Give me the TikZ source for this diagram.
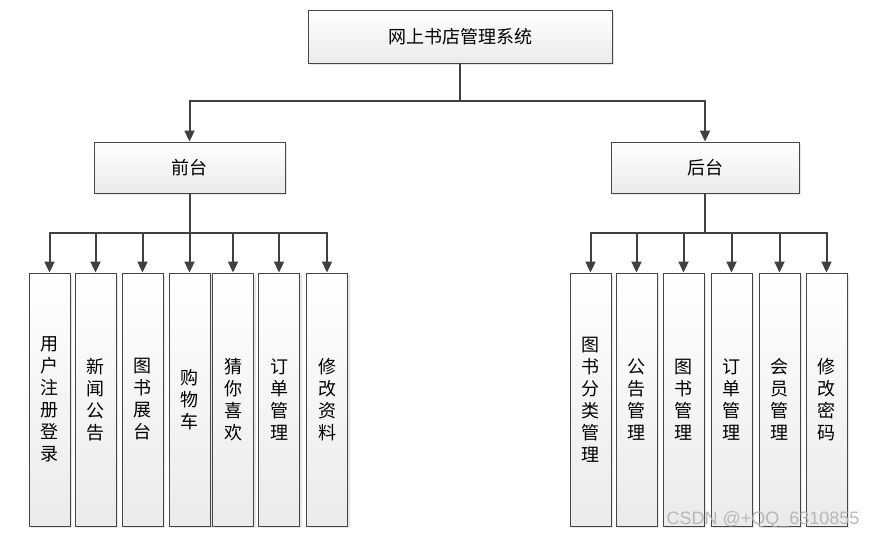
\documentclass[tikz,border=0pt]{standalone}
\usepackage{fontspec}
\newfontfamily\cjk{Noto Sans CJK SC}
\newfontfamily\markfont{Liberation Sans}
\usetikzlibrary{arrows.meta,shadows}

\begin{document}
\begin{tikzpicture}[x=1pt,y=-1pt]
	\tikzstyle{Box} = [draw=gray!55!black,line width=0.9pt,rectangle,inner sep=0pt,
		top color=white,bottom color=gray!16,
		drop shadow={shadow xshift=2pt,shadow yshift=-2pt,opacity=0.2},
		font=\cjk\fontsize{18}{22}\selectfont,align=center]
	\tikzstyle{Leaf} = [Box,minimum width=41pt,minimum height=253pt]
	\tikzstyle{Link} = [draw=black!75,line width=2pt,-{Triangle[width=10pt,length=11pt]}]
	\useasboundingbox (0,0) rectangle (881,539);
	\node[Box,minimum width=304pt,minimum height=53pt] (root) at (460,36.5) {网上书店管理系统};
	\node[Box,minimum width=191pt,minimum height=51pt] (front) at (189.5,167.5) {前台};
	\node[Box,minimum width=188pt,minimum height=51pt] (back) at (705,167.5) {后台};
	\draw[Link] (root.south) -- ++(0,38) -| (front.north);
	\draw[Link] (root.south) -- ++(0,38) -| (back.north);
	% front side
	\foreach \x/\t [count=\i] in {49.5/用\\户\\注\\册\\登\\录, 95.5/新\\闻\\公\\告,
		142.5/图\\书\\展\\台, 189.5/购\\物\\车, 233/猜\\你\\喜\\欢,
		279/订\\单\\管\\理, 327/修\\改\\资\\料}
	{
		\node[Leaf] (f\i) at (\x,399.5) {\t};
		\draw[Link] (front.south) -- ++(0,40) -| (f\i.north);
	}
	% back side
	\foreach \x/\t [count=\i] in {590.5/图\\书\\分\\类\\管\\理, 636.5/公\\告\\管\\理,
		683.5/图\\书\\管\\理, 731.5/订\\单\\管\\理, 779.5/会\\员\\管\\理,
		826.5/修\\改\\密\\码}
	{
		\node[Leaf] (b\i) at (\x,399.5) {\t};
		\draw[Link] (back.south) -- ++(0,40) -| (b\i.north);
	}
	\node[font=\markfont\fontsize{18}{18}\selectfont,text=gray!60,opacity=0.9] (mark) at (763,520) {CSDN @+QQ\_6310855};
\end{tikzpicture}
\end{document}
